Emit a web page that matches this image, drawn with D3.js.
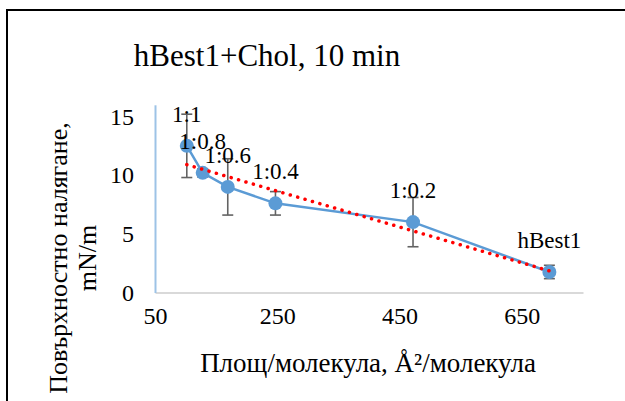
<!DOCTYPE html>
<html>
<head>
<meta charset="utf-8">
<script src="https://cdn.jsdelivr.net/npm/d3@7"></script>
<style>
  html, body { margin: 0; padding: 0; background: #fff; }
  svg { display: block; }
</style>
</head>
<body>
<svg id="chart" width="625" height="401"></svg>
<script>
// Surface pressure vs. area per molecule, hBest1 with cholesterol at several ratios
const labels   = ["1:1", "1:0.8", "1:0.6", "1:0.4", "1:0.2", "hBest1"];
const area     = [102, 128, 169, 247, 472, 695];
const pressure = [12.5, 10.2, 9.0, 7.6, 6.0, 1.75];
const errors   = [2.7, 0.35, 2.4, 1.0, 2.1, 0.57];
const xTicks   = [50, 250, 450, 650];
const yTicks   = [0, 5, 10, 15];

const FONT = "Liberation Serif";
const svg = d3.select("#chart");

const x = d3.scaleLinear().domain([50, 750]).range([155, 583]);
const y = d3.scaleLinear().domain([0, 16]).range([292.5, 104.8]);

// chart frame
svg.append("rect")
  .attr("x", 7).attr("y", 10)
  .attr("width", 640).attr("height", 420)
  .attr("fill", "none").attr("stroke", "#000").attr("stroke-width", 2);

// title
svg.append("text")
  .attr("x", 267).attr("y", 66)
  .attr("text-anchor", "middle")
  .attr("font-family", FONT)
  .attr("font-size", 31)
  .text("hBest1+Chol, 10 min");

// x axis
const xAxis = d3.axisBottom(x).tickValues(xTicks).tickSize(0).tickPadding(14).tickFormat(d3.format("d"));
const gx = svg.append("g").attr("transform", `translate(0,${y(0)})`).call(xAxis);
gx.attr("font-family", FONT).attr("font-size", 24);
gx.select(".domain").attr("stroke", "#d9d9d9").attr("stroke-width", 2);
gx.selectAll("text").attr("fill", "#000");

// y axis
const yAxis = d3.axisLeft(y).tickValues(yTicks).tickSize(0).tickPadding(21);
const gy = svg.append("g").attr("transform", `translate(${x(50)},0)`).call(yAxis);
gy.attr("font-family", FONT).attr("font-size", 24);
gy.select(".domain").attr("stroke", "#9dc3e6").attr("stroke-width", 2);
gy.selectAll("text").attr("fill", "#000");

// axis titles
svg.append("text")
  .attr("x", 368).attr("y", 372)
  .attr("text-anchor", "middle")
  .attr("font-family", FONT)
  .attr("font-size", 27)
  .text("Площ/молекула, Å²/молекула");

const yTitle = svg.append("text")
  .attr("transform", "translate(0,258) rotate(-90)")
  .attr("text-anchor", "middle")
  .attr("font-family", FONT)
  .attr("font-size", 26);
yTitle.append("tspan").attr("x", 0).attr("y", 67).text("Повърхностно налягане,");
yTitle.append("tspan").attr("x", 0).attr("y", 96).text("mN/m");

const pts = area.map((a, i) => ({ a, p: pressure[i], e: errors[i], label: labels[i] }));

// series line
svg.append("path")
  .datum(pts)
  .attr("fill", "none")
  .attr("stroke", "#5b9bd5")
  .attr("stroke-width", 2.5)
  .attr("d", d3.line().x(d => x(d.a)).y(d => y(d.p)));

// error bars
const eb = svg.append("g").attr("stroke", "#636363").attr("stroke-width", 1.6);
pts.forEach(d => {
  const cx = x(d.a);
  eb.append("line").attr("x1", cx).attr("x2", cx).attr("y1", y(d.p + d.e)).attr("y2", y(d.p - d.e));
  [d.p + d.e, d.p - d.e].forEach(v => {
    eb.append("line").attr("x1", cx - 5.5).attr("x2", cx + 5.5).attr("y1", y(v)).attr("y2", y(v));
  });
});

// markers
svg.append("g").selectAll("circle").data(pts).join("circle")
  .attr("cx", d => x(d.a)).attr("cy", d => y(d.p))
  .attr("r", 7)
  .attr("fill", "#5b9bd5");

// linear trend line (least squares)
const mx = d3.mean(area), my = d3.mean(pressure);
const sxy = d3.sum(area, (a, i) => (a - mx) * (pressure[i] - my));
const sxx = d3.sum(area, a => (a - mx) * (a - mx));
const slope = sxy / sxx, intercept = my - slope * mx;
const x0 = d3.min(area), x1 = d3.max(area);
svg.append("line")
  .attr("x1", x(x0)).attr("y1", y(intercept + slope * x0))
  .attr("x2", x(x1)).attr("y2", y(intercept + slope * x1))
  .attr("stroke", "#ff0000")
  .attr("stroke-width", 3.5)
  .attr("stroke-linecap", "round")
  .attr("stroke-dasharray", "0.1 7.6");

// data labels
svg.append("g").selectAll("text").data(pts).join("text")
  .attr("x", d => x(d.a)).attr("y", d => y(d.p) - 24)
  .attr("text-anchor", "middle")
  .attr("font-family", FONT)
  .attr("font-size", 23)
  .text(d => d.label);
</script>
</body>
</html>
